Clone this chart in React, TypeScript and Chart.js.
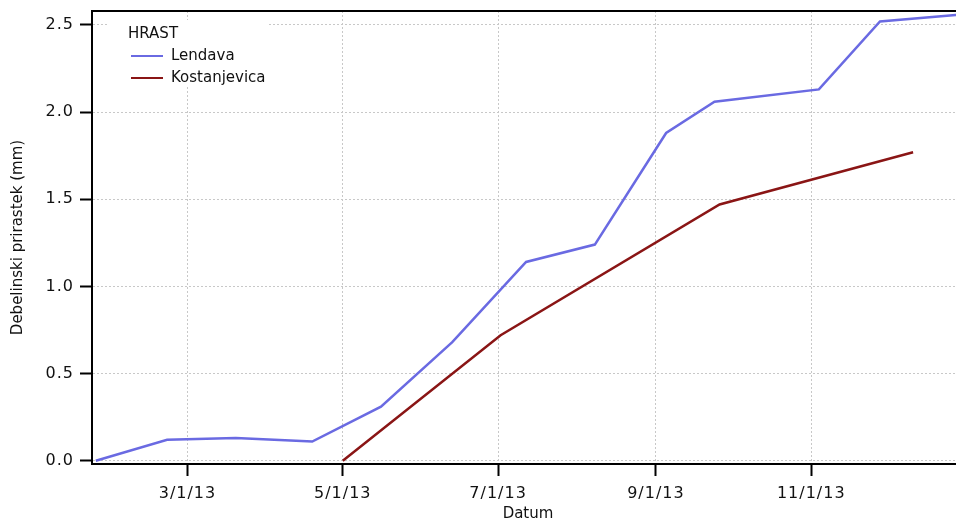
import { useEffect, useRef } from "react";
import { Chart, registerables } from "chart.js";

Chart.register(...registerables);

// Stem diameter increment (mm) of oak trees at two sites, 2013
const legendTitle = "HRAST";
const seriesNames = ["Lendava", "Kostanjevica"];

const lendavaDates = [
  "2013-01-24", "2013-02-21", "2013-03-20", "2013-04-19", "2013-05-16",
  "2013-06-13", "2013-07-12", "2013-08-08", "2013-09-05", "2013-09-24",
  "2013-11-04", "2013-11-28", "2013-12-30",
];
const lendavaValues = [0.0, 0.12, 0.13, 0.11, 0.31, 0.68, 1.14, 1.24, 1.88, 2.06, 2.13, 2.52, 2.56];

const kostanjevicaDates = ["2013-05-01", "2013-07-02", "2013-09-26", "2013-12-11"];
const kostanjevicaValues = [0.0, 0.72, 1.47, 1.77];

const xTickDates = ["2013-03-01", "2013-05-01", "2013-07-01", "2013-09-01", "2013-11-01"];
const yTickValues = [0.0, 0.5, 1.0, 1.5, 2.0, 2.5];

const xAxisTitle = "Datum";
const yAxisTitle = "Debelinski prirastek (mm)";

const seriesColors = ["#6a6ae2", "#8a1515"];

const FONT = "'DejaVu Sans', 'Noto Sans', sans-serif";
const HOUR = 3600 * 1000;

const toTime = (s: string) => {
  const [y, m, d] = s.split("-").map(Number);
  return Date.UTC(y, m - 1, d);
};

const formatDate = (t: number) => {
  const d = new Date(t);
  return `${d.getUTCMonth() + 1}/${d.getUTCDate()}/${String(d.getUTCFullYear()).slice(2)}`;
};

const toPoints = (dates: string[], values: number[]) =>
  dates.map((s, i) => ({ x: toTime(s), y: values[i] }));

// Black line along the top edge of the plot area; tick labels (drawn after
// the datasets) get a slightly wider letter spacing.
const frameTopPlugin = {
  id: "frameTop",
  afterDatasetsDraw(chart: any) {
    const { ctx, chartArea } = chart;
    ctx.save();
    ctx.strokeStyle = "#000";
    ctx.lineWidth = 2;
    ctx.beginPath();
    ctx.moveTo(chartArea.left - 1, chartArea.top);
    ctx.lineTo(chartArea.right, chartArea.top);
    ctx.stroke();
    ctx.restore();
    (ctx as any).letterSpacing = "1px";
  },
  afterDraw(chart: any) {
    (chart.ctx as any).letterSpacing = "0px";
  },
};

// Series key with a group heading, drawn inside the plot area
const insetLegendPlugin = {
  id: "insetLegend",
  afterDatasetsDraw(chart: any) {
    const { ctx, chartArea } = chart;
    const x0 = chartArea.left;
    const y0 = chartArea.top;
    ctx.save();
    (ctx as any).letterSpacing = "0px";
    ctx.fillStyle = "#fff";
    ctx.fillRect(x0 + 16, y0 + 9, 160, 67);
    ctx.font = `15px ${FONT}`;
    ctx.textBaseline = "alphabetic";
    ctx.textAlign = "left";
    ctx.fillStyle = "#111";
    ctx.fillText(legendTitle, x0 + 36, y0 + 27);
    chart.data.datasets.forEach((ds: any, i: number) => {
      const base = y0 + 49 + i * 22;
      ctx.strokeStyle = ds.borderColor;
      ctx.lineWidth = 2;
      ctx.beginPath();
      ctx.moveTo(x0 + 39, base - 4);
      ctx.lineTo(x0 + 71, base - 4);
      ctx.stroke();
      ctx.fillStyle = "#111";
      ctx.fillText(ds.label, x0 + 79, base);
    });
    ctx.restore();
  },
};

const gridStyle = {
  color: "#c8c8c8",
  lineWidth: 1,
  drawTicks: true,
  tickLength: 12,
  tickColor: "#000",
  tickWidth: 2,
  tickBorderDash: [],
};

export default function App() {
  const canvasRef = useRef<HTMLCanvasElement | null>(null);

  useEffect(() => {
    document.body.style.overflow = "hidden";
    const canvas = canvasRef.current;
    if (!canvas) return;

    const chart = new Chart(canvas, {
      type: "line",
      data: {
        datasets: [
          {
            label: seriesNames[0],
            data: toPoints(lendavaDates, lendavaValues),
            borderColor: seriesColors[0],
            backgroundColor: seriesColors[0],
            borderWidth: 2.5,
            pointRadius: 0,
            tension: 0,
          },
          {
            label: seriesNames[1],
            data: toPoints(kostanjevicaDates, kostanjevicaValues),
            borderColor: seriesColors[1],
            backgroundColor: seriesColors[1],
            borderWidth: 2.5,
            pointRadius: 0,
            tension: 0,
          },
        ],
      },
      options: {
        animation: false,
        responsive: false,
        maintainAspectRatio: false,
        layout: { padding: { top: 11, left: 0, right: 0, bottom: 0 } },
        plugins: {
          legend: { display: false },
          tooltip: { enabled: false },
        },
        scales: {
          x: {
            type: "linear",
            position: "bottom",
            min: toTime("2013-01-22") + 12 * HOUR,
            max: toTime("2013-12-31"),
            afterBuildTicks: (scale: any) => {
              scale.ticks = xTickDates.map((s) => ({ value: toTime(s) }));
            },
            afterFit: (scale: any) => {
              scale.height = 57;
            },
            ticks: {
              callback: (v: any) => formatDate(Number(v)),
              font: { family: FONT, size: 16 },
              color: "#111",
              padding: 8,
              maxRotation: 0,
              autoSkip: false,
              z: 1,
            },
            grid: gridStyle,
            border: { display: true, color: "#000", width: 2, dash: [2, 2] },
            title: {
              display: true,
              text: xAxisTitle,
              font: { family: FONT, size: 15 },
              color: "#111",
              padding: { top: 0, bottom: -2 },
            },
          },
          y: {
            type: "linear",
            position: "left",
            min: -0.019,
            max: 2.58,
            afterBuildTicks: (scale: any) => {
              scale.ticks = yTickValues.map((v) => ({ value: v }));
            },
            afterFit: (scale: any) => {
              scale.width = 92;
              scale.paddingTop = 0;
              scale.paddingBottom = 0;
            },
            ticks: {
              callback: (v: any) => Number(v).toFixed(1),
              font: { family: FONT, size: 16 },
              color: "#111",
              padding: 6,
              z: 1,
            },
            grid: gridStyle,
            border: { display: true, color: "#000", width: 2, dash: [2, 2] },
            title: {
              display: true,
              text: yAxisTitle,
              font: { family: FONT, size: 15 },
              color: "#111",
              padding: { top: 9, bottom: 0 },
            },
          },
        },
      },
      plugins: [frameTopPlugin, insetLegendPlugin],
    });

    return () => chart.destroy();
  }, []);

  return (
    <div style={{ position: "fixed", left: 0, top: 0, width: 964, height: 521, background: "#fff" }}>
      <canvas ref={canvasRef} width={964} height={521} style={{ display: "block" }} />
    </div>
  );
}
